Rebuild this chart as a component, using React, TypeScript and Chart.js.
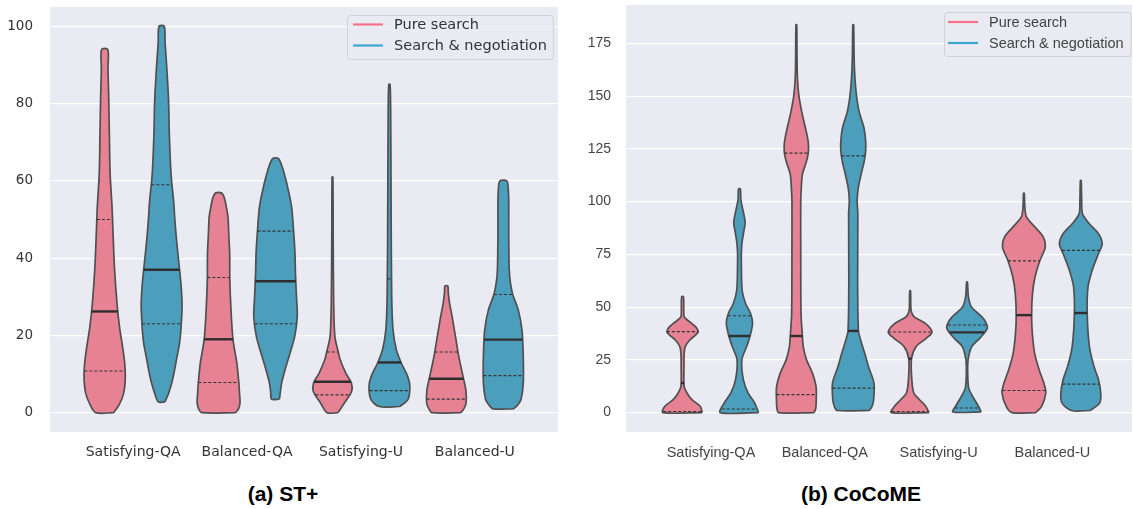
import React, { useEffect, useRef } from "react";
import { Chart, registerables } from "chart.js";

Chart.register(...registerables);

// ---------- data ----------
const CATEGORIES = ["Satisfying-QA", "Balanced-QA", "Satisfying-U", "Balanced-U"];
const SERIES = ["Pure search", "Search & negotiation"];
const ST_Y_TICKS = [0, 20, 40, 60, 80, 100];
const CC_Y_TICKS = [0, 25, 50, 75, 100, 125, 150, 175];

// violin profiles: [value, relative density]
const ST_PURE_SATQA = [[0, 9.5], [2, 15], [5, 19.5], [9, 21.2], [13, 20.5], [17, 18.5], [22, 15.5], [28, 13], [37, 10.5], [46, 9], [53, 8], [62, 6], [72, 5.3], [82, 4.6], [89, 3.9], [94, 3.7]];
const ST_PURE_BALQA = [[0, 17.5], [1, 20.5], [2.6, 22], [5, 21.5], [7.8, 20.8], [12.9, 18.8], [18.9, 15], [26.6, 13], [34.6, 11.8], [41, 11.7], [46, 10.8], [50.6, 10], [53, 8.5], [55, 7], [56.2, 5.5], [56.9, 3.5]];
const ST_PURE_SATU = [[0, 6], [2.5, 12.5], [5.5, 19.7], [7.7, 19.5], [10.2, 14], [13.7, 8.3], [15.8, 6.3], [19.7, 3], [28.3, 1.8], [45.6, 1.3], [61, 1]];
const ST_PURE_BALU = [[0, 15], [1, 18], [2.5, 20.3], [5.9, 20], [9.4, 17.2], [14.5, 13], [19.7, 9.7], [24.9, 6.3], [28.3, 3.8], [31, 2.5], [32.8, 2]];

const ST_NEGO_SATQA = [[2.8, 4], [5, 7.5], [8, 11], [11, 13.5], [14.5, 16], [18, 18.5], [22, 20], [28, 21], [33, 20], [37, 18.5], [42, 16.5], [46, 15], [50, 13.8], [55, 12.5], [60, 10.5], [64, 9.5], [72, 8.3], [81, 7.5], [89, 5.8], [96, 4], [100, 3.2]];
const ST_NEGO_BALQA = [[3.5, 4.5], [5.5, 5.5], [7.7, 6.7], [11, 10], [14.5, 14], [19.7, 19.7], [24.9, 22.3], [30, 21.5], [36, 20.5], [41.3, 20], [46.4, 18.8], [52.5, 17], [55, 15.5], [58, 13], [60.2, 11], [63.6, 7.3], [65.8, 3.3]];
const ST_NEGO_SATU = [[1.6, 10.8], [3.4, 19], [6.8, 21], [9.4, 18.8], [12.8, 12.5], [16.3, 7.5], [21.4, 4.2], [28.3, 3], [34.6, 2.7], [45.6, 2.4], [58.5, 2.2], [66, 2.1], [75, 1.9], [81, 1.7], [85, 1.2]];
const ST_NEGO_BALU = [[1, 10.8], [2, 15], [3.4, 18.3], [7.7, 20.5], [14.5, 20.5], [21.4, 19.2], [26.6, 15.5], [30.6, 10], [34, 7.5], [37, 6.5], [45.6, 6], [54.2, 6], [58, 5.5], [60, 4]];

const CC_PURE_SATQA = [[0, 20.3], [3, 18.3], [6.1, 10], [9.3, 5], [12.4, 2.2], [21.8, 2], [28, 2.2], [31.3, 3.3], [34.4, 7.8], [36.5, 13], [38.4, 16.3], [40.5, 14], [42.3, 9.7], [44, 5], [45.4, 2.2], [48.6, 1.8], [54.9, 1.5]];
const CC_PURE_BALQA = [[0, 18.3], [2, 20], [6.1, 20.5], [12.4, 20.3], [18.7, 16.7], [25, 10.8], [31.3, 7.5], [36, 6.7], [47, 5.3], [78.4, 5], [100.5, 5], [106, 5.5], [113, 6.7], [119, 10.7], [123, 12.5], [127.2, 12.7], [131, 11.5], [135, 9.7], [143, 5.8], [150.8, 3], [158.6, 1.7], [168, 1.3], [183.8, 1]];
const CC_PURE_SATU = [[0, 19.5], [3, 16.2], [6.1, 10], [9.3, 4.3], [15.6, 2.3], [25.6, 2], [31.3, 6.7], [35.2, 16.7], [38.2, 22.5], [42.3, 15.8], [45.4, 4.7], [47.5, 2], [50.1, 1.3], [57.7, 1]];
const CC_PURE_BALU = [[0, 12.5], [3, 18.3], [9.3, 22.5], [14, 20.5], [20.3, 15.8], [28.2, 11.3], [37.6, 9], [46.2, 8.3], [56.5, 9.2], [64.3, 11.7], [72.2, 16.7], [78.4, 22], [83.2, 20], [87.9, 11.7], [92.6, 3.3], [97.3, 1.5], [103.9, 1]];

const CC_NEGO_SATQA = [[0, 19.7], [4.6, 15.8], [9.3, 9.2], [15.6, 4.5], [25, 3], [31.3, 7.8], [36.3, 11.2], [42.3, 13.7], [47, 11.7], [51.7, 6.7], [58, 3.3], [70.6, 2.5], [76, 2.5], [81, 3.3], [86, 5], [90, 6.3], [94, 5], [97.3, 3.5], [101, 2], [106, 1.5]];
const CC_NEGO_BALQA = [[1, 16.7], [3, 19.5], [6.1, 21], [14, 21.3], [21.8, 15.8], [28.2, 12], [34.4, 8], [38.7, 5.8], [62.7, 5], [94.2, 5.2], [100.5, 4.5], [106.7, 5.7], [113, 8.5], [119, 11.5], [124, 13], [128.8, 13], [135, 11.3], [143, 6.3], [150.8, 3.7], [158.6, 2.3], [168, 1.5], [183.8, 1]];
const CC_NEGO_SATU = [[0.3, 14.7], [3, 12], [7.7, 6.2], [11.6, 2.3], [18.7, 1.3], [25, 1.7], [31.3, 5.3], [35.2, 13.3], [40, 20.8], [43.9, 18], [47, 11.7], [50.1, 5], [54.9, 2], [61.9, 1]];
const CC_NEGO_BALU = [[1, 10], [4.6, 19.5], [9.3, 20.5], [15.6, 18.3], [21.8, 13.8], [31.3, 9.2], [47, 7], [59.6, 7.8], [67.5, 12], [75.3, 18.2], [80, 22], [84.8, 18.3], [89.5, 9.2], [94.2, 2.3], [100.5, 1.5], [110, 1]];

// quartiles per category: [q1, median, q3]
const ST_PURE_QUARTILES = [[10.8, 26.2, 50], [7.8, 19, 35], [4.6, 8, 15.7], [3.5, 8.8, 15.7]];
const ST_NEGO_QUARTILES = [[23, 37, 59], [23, 34, 47], [5.7, 13, 34.6], [9.6, 18.9, 30.6]];
const CC_PURE_QUARTILES = [[0.5, 14, 38.4], [8.5, 36.3, 123], [0.5, 25.6, 38.2], [10.5, 46.2, 71.9]];
const CC_NEGO_QUARTILES = [[1.7, 36.3, 45.9], [11.6, 38.7, 121.7], [2.2, 38, 41.5], [13.5, 47.2, 76.9]];

const ST_PURE = [ST_PURE_SATQA, ST_PURE_BALQA, ST_PURE_SATU, ST_PURE_BALU];
const ST_NEGO = [ST_NEGO_SATQA, ST_NEGO_BALQA, ST_NEGO_SATU, ST_NEGO_BALU];
const CC_PURE = [CC_PURE_SATQA, CC_PURE_BALQA, CC_PURE_SATU, CC_PURE_BALU];
const CC_NEGO = [CC_NEGO_SATQA, CC_NEGO_BALQA, CC_NEGO_SATU, CC_NEGO_BALU];

// ---------- style ----------
const FILL_COLORS = ["#E68294", "#4C9EBD"];
const LEGEND_COLORS = ["#F77189", "#39A7D0"];
const EDGE_COLOR = "#505050";
const MEDIAN_COLOR = "#2e2e2e";
const QUART_COLOR = "#333333";
const PLOT_BG = "#EAEAF2";
const HUE_OFFSET = 0.25;
const DENSITY_SCALE = 1 / 113.7;
const EDGE_INSET = 0.6;

const halfWidth = (d: number) => Math.max(d - EDGE_INSET, 0.35) * DENSITY_SCALE;

function densityAt(prof: number[][], v: number) {
  if (v <= prof[0][0]) return prof[0][1];
  for (let i = 1; i < prof.length; i++) {
    if (v <= prof[i][0]) {
      const [v0, d0] = prof[i - 1];
      const [v1, d1] = prof[i];
      return d0 + ((d1 - d0) * (v - v0)) / (v1 - v0);
    }
  }
  return prof[prof.length - 1][1];
}

function buildDatasets(series: number[][][][], quartiles: number[][][]) {
  const violins: any[] = [];
  const lines: any[] = [];
  series.forEach((profiles, si) => {
    const offset = si === 0 ? -HUE_OFFSET : HUE_OFFSET;
    profiles.forEach((prof, ci) => {
      const c = ci + offset;
      const right = prof.map(([v, d]) => ({ x: c + halfWidth(d), y: v }));
      const left = [...prof].reverse().map(([v, d]) => ({ x: c - halfWidth(d), y: v }));
      violins.push({
        label: `${SERIES[si]} ${CATEGORIES[ci]}`,
        data: [...right, ...left, right[0]],
        fill: "shape",
        backgroundColor: FILL_COLORS[si],
        borderColor: EDGE_COLOR,
        borderWidth: 1.7,
        borderJoinStyle: "round",
        tension: 0.3,
        pointRadius: 0,
        pointHoverRadius: 0,
        order: 2,
      });
      quartiles[si][ci].forEach((q, k) => {
        const h = halfWidth(densityAt(prof, q));
        lines.push({
          label: "q",
          data: [{ x: c - h, y: q }, { x: c + h, y: q }],
          borderColor: k === 1 ? MEDIAN_COLOR : QUART_COLOR,
          borderWidth: k === 1 ? 2.4 : 1.1,
          borderDash: k === 1 ? [] : [3, 2],
          pointRadius: 0,
          pointHoverRadius: 0,
          fill: false,
          tension: 0,
          order: 1,
        });
      });
    });
  });
  return [...violins, ...lines];
}

const plotBg = {
  id: "plotBg",
  beforeDraw(chart: any) {
    const { ctx, chartArea: a } = chart;
    ctx.save();
    ctx.fillStyle = PLOT_BG;
    ctx.fillRect(a.left, a.top, a.right - a.left, a.bottom - a.top);
    ctx.restore();
  },
};

const boxLegend = {
  id: "boxLegend",
  afterDraw(chart: any, _args: any, o: any) {
    const { ctx, chartArea: a } = chart;
    ctx.save();
    ctx.font = `${o.fontSize}px ${o.fontFamily}`;
    const tw = Math.max(...SERIES.map((t) => ctx.measureText(t).width));
    const w = o.textX + tw + o.padRight;
    const x = Math.round(a.right - o.offsetRight - w);
    const y = Math.round(a.top + o.offsetTop);
    ctx.beginPath();
    ctx.roundRect(x + 0.5, y + 0.5, w, o.height, 3);
    ctx.fillStyle = "rgba(234,234,242,0.8)";
    ctx.fill();
    ctx.strokeStyle = "rgba(204,204,204,0.8)";
    ctx.lineWidth = 1;
    ctx.stroke();
    SERIES.forEach((t, i) => {
      const ly = y + o.firstRow + i * o.rowGap;
      ctx.strokeStyle = LEGEND_COLORS[i];
      ctx.lineWidth = 2.2;
      ctx.beginPath();
      ctx.moveTo(x + o.lineX, ly);
      ctx.lineTo(x + o.lineX + o.lineLen, ly);
      ctx.stroke();
      ctx.fillStyle = o.textColor;
      ctx.textBaseline = "middle";
      ctx.textAlign = "left";
      ctx.fillText(t, x + o.textX, ly + 1);
    });
    ctx.restore();
  },
};

type PanelProps = {
  left: number;
  width: number;
  height: number;
  series: number[][][][];
  quartiles: number[][][];
  yTicks: number[];
  yMin: number;
  yMax: number;
  xMin: number;
  xMax: number;
  padding: { top: number; right: number; left: number; bottom: number };
  yAxisWidth: number;
  xAxisHeight: number;
  yPad: number;
  xPad: number;
  family: string;
  xFont: number;
  yFont: number;
  tickColor: string;
  legend: any;
};

function Panel(p: PanelProps) {
  const ref = useRef<HTMLCanvasElement>(null);
  useEffect(() => {
    const chart = new Chart(ref.current as HTMLCanvasElement, {
      type: "line",
      data: { datasets: buildDatasets(p.series, p.quartiles) as any },
      options: {
        animation: false,
        responsive: false,
        maintainAspectRatio: false,
        events: [],
        layout: { padding: p.padding },
        plugins: {
          legend: { display: false },
          tooltip: { enabled: false },
          boxLegend: p.legend,
        } as any,
        scales: {
          x: {
            type: "linear",
            min: p.xMin,
            max: p.xMax,
            border: { display: false },
            grid: { display: false, drawTicks: false },
            afterBuildTicks: (s: any) => {
              s.ticks = CATEGORIES.map((_, i) => ({ value: i }));
            },
            afterFit: (s: any) => {
              s.height = p.xAxisHeight;
              s.paddingLeft = 0;
              s.paddingRight = 0;
            },
            ticks: {
              autoSkip: false,
              maxRotation: 0,
              padding: p.xPad,
              color: p.tickColor,
              font: { family: p.family, size: p.xFont },
              callback: (v: any) => CATEGORIES[Number(v)] ?? "",
            },
          },
          y: {
            type: "linear",
            min: p.yMin,
            max: p.yMax,
            border: { display: false },
            grid: { color: "#ffffff", lineWidth: 1.2, drawTicks: false },
            afterBuildTicks: (s: any) => {
              s.ticks = p.yTicks.map((v) => ({ value: v }));
            },
            afterFit: (s: any) => {
              s.width = p.yAxisWidth;
              s.paddingTop = 0;
              s.paddingBottom = 0;
            },
            ticks: {
              padding: p.yPad,
              color: p.tickColor,
              font: { family: p.family, size: p.yFont },
              callback: (v: any) => String(v),
            },
          },
        },
      } as any,
      plugins: [plotBg, boxLegend],
    });
    return () => chart.destroy();
  }, []);
  return (
    <canvas
      ref={ref}
      width={p.width}
      height={p.height}
      style={{ position: "absolute", left: p.left, top: 0, width: p.width, height: p.height }}
    />
  );
}

const titleStyle: React.CSSProperties = {
  position: "absolute",
  top: 483,
  transform: "translateX(-50%)",
  font: "bold 21px 'Liberation Sans', Arial, sans-serif",
  lineHeight: "22px",
  color: "#000",
  whiteSpace: "nowrap",
};

export default function App() {
  return (
    <div style={{ position: "fixed", left: 0, top: 0, width: 1133, height: 509, background: "#fff", overflow: "hidden" }}>
      <Panel
        left={0}
        width={570}
        height={470}
        series={[ST_PURE, ST_NEGO]}
        quartiles={[ST_PURE_QUARTILES, ST_NEGO_QUARTILES]}
        yTicks={ST_Y_TICKS}
        yMin={-5}
        yMax={105}
        xMin={-0.73}
        xMax={3.73}
        padding={{ top: 7, right: 12, left: 0, bottom: 0 }}
        yAxisWidth={50}
        xAxisHeight={38}
        yPad={17}
        xPad={12}
        family="'DejaVu Sans'"
        xFont={14}
        yFont={13.5}
        tickColor="#333333"
        legend={{ fontFamily: "'DejaVu Sans'", fontSize: 14.5, textColor: "#333333", offsetRight: 5, offsetTop: 8, height: 44, lineX: 6, lineLen: 30, textX: 47, padRight: 6, firstRow: 9.5, rowGap: 21 }}
      />
      <Panel
        left={570}
        width={563}
        height={470}
        series={[CC_PURE, CC_NEGO]}
        quartiles={[CC_PURE_QUARTILES, CC_NEGO_QUARTILES]}
        yTicks={CC_Y_TICKS}
        yMin={-9.2}
        yMax={193.2}
        xMin={-0.747}
        xMax={3.7}
        padding={{ top: 5, right: 1, left: 0, bottom: 0 }}
        yAxisWidth={56}
        xAxisHeight={38}
        yPad={15}
        xPad={12}
        family="'Liberation Sans'"
        xFont={14.5}
        yFont={14}
        tickColor="#444444"
        legend={{ fontFamily: "'Liberation Sans'", fontSize: 14.5, textColor: "#444444", offsetRight: 1, offsetTop: 7, height: 44, lineX: 4, lineLen: 30, textX: 45, padRight: 7, firstRow: 10, rowGap: 21 }}
      />
      <div style={{ ...titleStyle, left: 283 }}>(a) ST+</div>
      <div style={{ ...titleStyle, left: 861 }}>(b) CoCoME</div>
    </div>
  );
}
